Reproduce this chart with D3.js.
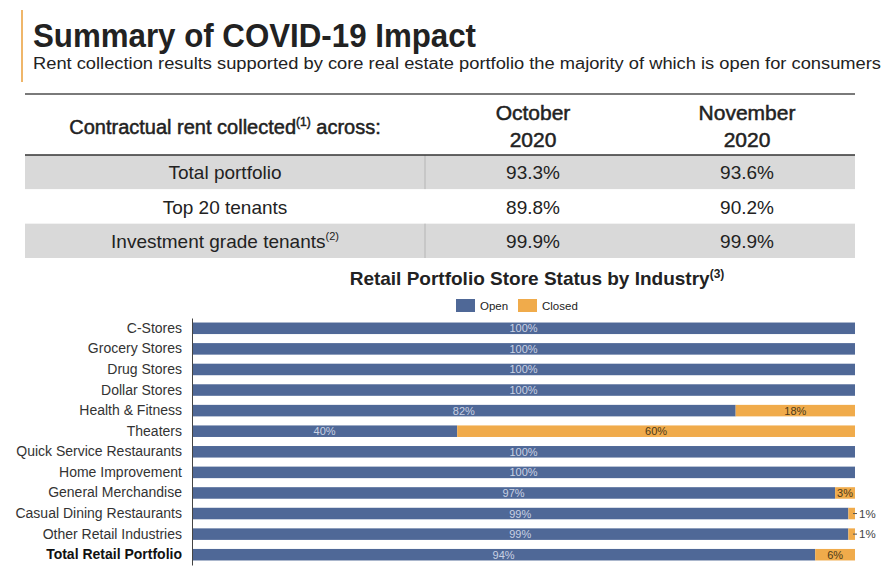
<!DOCTYPE html>
<html>
<head>
<meta charset="utf-8">
<script src="https://cdn.jsdelivr.net/npm/d3@7"></script>
<style>
  body { margin: 0; background: #fff; }
  svg { display: block; }
  text { font-family: "Liberation Sans Narrow", "Liberation Sans", Arial, sans-serif; fill: #222; }
</style>
</head>
<body>
<svg id="chart" width="890" height="573"></svg>
<script>
// ---- data ----
const tableRows = ["Total portfolio", "Top 20 tenants", "Investment grade tenants"];
const rowNotes = ["", "", "(2)"];
const octValues = [93.3, 89.8, 99.9];
const novValues = [93.6, 90.2, 99.9];
const monthHeads = [["October", "2020"], ["November", "2020"]];

const industries = ["C-Stores", "Grocery Stores", "Drug Stores", "Dollar Stores", "Health & Fitness",
  "Theaters", "Quick Service Restaurants", "Home Improvement", "General Merchandise",
  "Casual Dining Restaurants", "Other Retail Industries", "Total Retail Portfolio"];
const openPct = [100, 100, 100, 100, 82, 40, 100, 100, 97, 99, 99, 94];
const closedPct = [0, 0, 0, 0, 18, 60, 0, 0, 3, 1, 1, 6];
const seriesNames = ["Open", "Closed"];

const BLUE = "#4f6897", ORANGE = "#f0ab4b";
const svg = d3.select("#chart");

// ---- header ----
svg.append("line").attr("x1", 22).attr("x2", 22).attr("y1", 10).attr("y2", 82)
  .attr("stroke", "#efb66a").attr("stroke-width", 2);
svg.append("text").attr("x", 33).attr("y", 47)
  .attr("font-size", 34).attr("font-weight", "bold")
  .attr("textLength", 443).attr("lengthAdjust", "spacingAndGlyphs")
  .text("Summary of COVID-19 Impact");
svg.append("text").attr("x", 33).attr("y", 69)
  .attr("font-size", 16)
  .attr("textLength", 848).attr("lengthAdjust", "spacingAndGlyphs")
  .text("Rent collection results supported by core real estate portfolio the majority of which is open for consumers");
svg.append("line").attr("x1", 25).attr("x2", 855).attr("y1", 94).attr("y2", 94)
  .attr("stroke", "#7a7a7a").attr("stroke-width", 2);

// ---- rent table ----
const colX = [225, 533, 747];
const rowY = d3.scaleBand().domain(tableRows).range([155, 258]);

let head = svg.append("text").attr("x", colX[0]).attr("y", 134)
  .attr("text-anchor", "middle").attr("font-size", 20)
  .attr("stroke", "#222").attr("stroke-width", 0.5);
head.append("tspan").text("Contractual rent collected");
head.append("tspan").attr("font-size", 12).attr("dy", -8).text("(1)");
head.append("tspan").attr("dy", 8).text(" across:");

monthHeads.forEach((m, i) => {
  m.forEach((s, j) => {
    svg.append("text").attr("x", colX[i + 1]).attr("y", 120 + j * 27)
      .attr("text-anchor", "middle").attr("font-size", 21)
      .attr("stroke", "#222").attr("stroke-width", 0.5).text(s);
  });
});

const rows = svg.selectAll("g.row").data(tableRows).enter().append("g").attr("class", "row");
rows.append("rect").attr("x", 25).attr("width", 830)
  .attr("y", d => rowY(d)).attr("height", rowY.bandwidth())
  .attr("fill", (d, i) => i % 2 === 0 ? "#d9d9d9" : "#fff");
rows.filter((d, i) => i % 2 === 0).append("line")
  .attr("x1", 425).attr("x2", 425)
  .attr("y1", d => rowY(d)).attr("y2", d => rowY(d) + rowY.bandwidth())
  .attr("stroke", "#b5b5b5");
let lbl = rows.append("text").attr("x", colX[0]).attr("y", d => rowY(d) + rowY.bandwidth() / 2 + 7)
  .attr("text-anchor", "middle").attr("font-size", 19);
lbl.append("tspan").text(d => d);
lbl.append("tspan").attr("font-size", 11).attr("dy", -8).text((d, i) => rowNotes[i]);
rows.append("text").attr("x", colX[1]).attr("y", d => rowY(d) + rowY.bandwidth() / 2 + 7)
  .attr("text-anchor", "middle").attr("font-size", 19).text((d, i) => octValues[i].toFixed(1) + "%");
rows.append("text").attr("x", colX[2]).attr("y", d => rowY(d) + rowY.bandwidth() / 2 + 7)
  .attr("text-anchor", "middle").attr("font-size", 19).text((d, i) => novValues[i].toFixed(1) + "%");
svg.append("line").attr("x1", 25).attr("x2", 855).attr("y1", 155).attr("y2", 155)
  .attr("stroke", "#333").attr("stroke-width", 1.5);

// ---- bar chart ----
let ct = svg.append("text").attr("x", 537).attr("y", 285)
  .attr("text-anchor", "middle").attr("font-size", 19).attr("font-weight", "bold");
ct.append("tspan").text("Retail Portfolio Store Status by Industry");
ct.append("tspan").attr("font-size", 12).attr("dy", -7).text("(3)");

const legend = svg.selectAll("g.leg").data(seriesNames).enter().append("g")
  .attr("transform", (d, i) => `translate(${456 + i * 62},299)`);
legend.append("rect").attr("width", 19).attr("height", 13)
  .attr("fill", (d, i) => i === 0 ? BLUE : ORANGE);
legend.append("text").attr("x", 24).attr("y", 10.5).attr("font-size", 11.5)
  .attr("fill", "#333").text(d => d);

const x = d3.scaleLinear().domain([0, 100]).range([192, 855]);
const y = d3.scaleBand().domain(industries).range([318, 565]).paddingInner(0.44).paddingOuter(0.22);

const data = industries.map((name, i) => ({ name, open: openPct[i], closed: closedPct[i] }));
const stack = d3.stack().keys(["open", "closed"])(data);

svg.append("g").selectAll("g").data(stack).enter().append("g")
  .attr("fill", (d, i) => i === 0 ? BLUE : ORANGE)
  .selectAll("rect").data(d => d).enter().append("rect")
  .attr("x", d => x(d[0])).attr("width", d => x(d[1]) - x(d[0]))
  .attr("y", d => y(d.data.name)).attr("height", y.bandwidth());

// labels inside segments, tiny ones pulled outside with a dash
stack.forEach((s, si) => {
  s.forEach(d => {
    const v = d[1] - d[0];
    if (v <= 0) return;
    const cy = y(d.data.name) + y.bandwidth() / 2 + 4;
    if (v >= 2) {
      svg.append("text").attr("x", (x(d[0]) + x(d[1])) / 2).attr("y", cy)
        .attr("text-anchor", "middle").attr("font-size", 11)
        .style("fill", si === 0 ? "#c9d1e3" : "#4d3a18").text(v + "%");
    } else {
      svg.append("line").attr("x1", x(d[1]) - 2).attr("x2", x(d[1]) + 2)
        .attr("y1", cy - 4).attr("y2", cy - 4).attr("stroke", "#555");
      svg.append("text").attr("x", x(d[1]) + 4).attr("y", cy)
        .attr("font-size", 11.5).style("fill", "#444").text(v + "%");
    }
  });
});

const yAxis = svg.append("g").attr("transform", "translate(192,0)")
  .call(d3.axisLeft(y).tickSize(0).tickPadding(10));
yAxis.select(".domain").attr("stroke", "#444");
yAxis.selectAll("text").attr("font-size", 14)
  .style("font-family", '"Liberation Sans Narrow", "Liberation Sans", Arial, sans-serif')
  .attr("font-weight", d => d === "Total Retail Portfolio" ? "bold" : null)
  .style("fill", d => d === "Total Retail Portfolio" ? "#111" : "#333");
</script>
</body>
</html>
